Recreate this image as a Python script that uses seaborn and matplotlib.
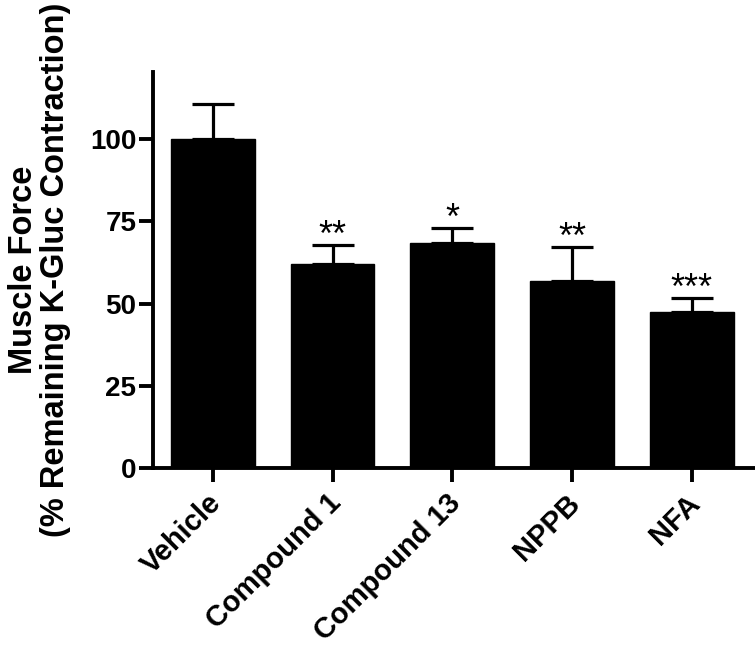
import matplotlib
matplotlib.use("Agg")
import pandas as pd
import matplotlib.pyplot as plt
import matplotlib.transforms as mtransforms
import seaborn as sns

# Data
groups = ["Vehicle", "Compound 1", "Compound 13", "NPPB", "NFA"]
means = [100, 62, 68.5, 57, 47.5]
sem = [10.8, 5.7, 4.5, 10.2, 4.2]
stars = ["", "**", "*", "**", "***"]

df = pd.DataFrame({"group": groups, "force": means})

# ==========================
# Style
# ==========================
sns.set_style("ticks")
plt.rcParams["font.family"] = ["Liberation Sans", "DejaVu Sans"]
plt.rcParams["text.color"] = "black"
plt.rcParams["axes.labelcolor"] = "black"
plt.rcParams["xtick.color"] = "black"
plt.rcParams["ytick.color"] = "black"
plt.rcParams["axes.edgecolor"] = "black"

fig = plt.figure(figsize=(7.55, 6.48), dpi=100)
ax = fig.add_axes([0.2026, 0.2778, 0.7961, 0.6111])

sns.barplot(data=df, x="group", y="force", color="black", width=0.7,
            errorbar=None, ax=ax)
for p in ax.patches:
    p.set_facecolor("black")
    p.set_edgecolor("black")

# upper error bars only
ax.errorbar(range(len(groups)), means, yerr=[[0] * len(groups), sem],
            fmt="none", ecolor="black", elinewidth=2.3, capsize=15,
            capthick=2.3, zorder=3)

# significance stars
for i, s in enumerate(stars):
    if s:
        ax.annotate(s, (i, means[i] + sem[i]), xytext=(0, -6.5),
                    textcoords="offset points", ha="center", va="bottom",
                    fontsize=26, color="black")

# ==========================
# Axes
# ==========================
ax.set_xlim(-0.5, 4.52)
ax.set_ylim(0, 120.4)
ax.set_yticks([0, 25, 50, 75, 100])
sns.despine(ax=ax)
for side in ["left", "bottom"]:
    ax.spines[side].set_linewidth(2.8)
    ax.spines[side].set_color("black")

ax.tick_params(axis="both", length=10, width=2.8, labelsize=20, pad=2,
               colors="black")
ax.tick_params(axis="x", labelsize=21, pad=5)
for lab in ax.get_yticklabels():
    lab.set_fontweight("bold")

shift = mtransforms.ScaledTranslation(-0.06, 0, fig.dpi_scale_trans)
for lab in ax.get_xticklabels():
    lab.set_rotation(45)
    lab.set_ha("right")
    lab.set_rotation_mode("anchor")
    lab.set_fontweight("bold")
    lab.set_transform(lab.get_transform() + shift)

ax.set_xlabel("")
ax.set_ylabel("Muscle Force\n(% Remaining K-Gluc Contraction)",
              fontsize=23.5, fontweight="bold", labelpad=13.5,
              linespacing=1.05)

fig.savefig("out.png", dpi=100)
